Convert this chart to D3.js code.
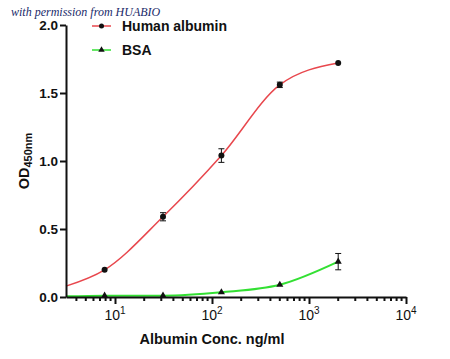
<!DOCTYPE html>
<html>
<head>
<meta charset="utf-8">
<script src="https://cdn.jsdelivr.net/npm/d3@7"></script>
<style>
  body { margin: 0; background: #fff; }
  text { font-family: Arial, "Liberation Sans", sans-serif; }
</style>
</head>
<body>
<div id="chart"></div>
<script>
// data
const conc = [7.8125, 31.25, 125, 500, 2000];
const humanOD = [0.20, 0.59, 1.04, 1.56, 1.72];
const humanErr = [0.01, 0.03, 0.05, 0.02, 0.01];
const bsaOD = [0.01, 0.01, 0.035, 0.09, 0.26];
const bsaErr = [0.003, 0.003, 0.005, 0.005, 0.06];
// fitted curve start (left edge of axis)
const curveStartX = 3.125;
const humanStart = 0.08;
const bsaStart = 0.005;
const yTicks = [0, 0.5, 1.0, 1.5, 2.0];
const xDecades = [10, 100, 1000, 10000];

const red = '#e8474d';
const green = '#33e033';

const width = 450, height = 359;
const margin = {top: 25, right: 44, bottom: 62, left: 66};

const svg = d3.select("#chart")
    .append("svg")
    .attr("width", width)
    .attr("height", height);

const x = d3.scaleLog()
    .domain([curveStartX, 10000])
    .range([margin.left, width - margin.right]);
const y = d3.scaleLinear()
    .domain([0, 2])
    .range([height - margin.bottom, margin.top]);

// watermark
svg.append("text")
    .attr("x", 11)
    .attr("y", 16)
    .style("font-family", "'Liberation Serif', 'DejaVu Serif', serif")
    .style("font-style", "italic")
    .style("font-size", "12px")
    .attr("fill", "#1a2a6a")
    .text("with permission from HUABIO");

// curves
const line = d3.line()
    .x(d => x(d[0]))
    .y(d => y(d[1]))
    .curve(d3.curveMonotoneX);

const humanPts = [[curveStartX, humanStart]].concat(conc.map((c, i) => [c, humanOD[i]]));
const bsaPts = [[curveStartX, bsaStart]].concat(conc.map((c, i) => [c, bsaOD[i]]));

svg.append("path")
    .datum(bsaPts)
    .attr("d", line)
    .attr("fill", "none")
    .attr("stroke", green)
    .attr("stroke-width", 2);

svg.append("path")
    .datum(humanPts)
    .attr("d", line)
    .attr("fill", "none")
    .attr("stroke", red)
    .attr("stroke-width", 1.5);

// error bars
function errorBars(vals, errs) {
    const g = svg.append("g").attr("stroke", "#111").attr("stroke-width", 1);
    conc.forEach((c, i) => {
        if (errs[i] < 0.015) return;
        const cx = x(c);
        const y1 = y(vals[i] + errs[i]), y2 = y(vals[i] - errs[i]);
        g.append("line").attr("x1", cx).attr("x2", cx).attr("y1", y1).attr("y2", y2);
        g.append("line").attr("x1", cx - 3).attr("x2", cx + 3).attr("y1", y1).attr("y2", y1);
        g.append("line").attr("x1", cx - 3).attr("x2", cx + 3).attr("y1", y2).attr("y2", y2);
    });
}
errorBars(humanOD, humanErr);
errorBars(bsaOD, bsaErr);

// markers
svg.selectAll(".humanDot")
    .data(conc)
    .enter()
    .append("circle")
    .attr("class", "humanDot")
    .attr("cx", d => x(d))
    .attr("cy", (d, i) => y(humanOD[i]))
    .attr("r", 3)
    .attr("fill", "#111");

const tri = d3.symbol().type(d3.symbolTriangle).size(22);
svg.selectAll(".bsaTri")
    .data(conc)
    .enter()
    .append("path")
    .attr("class", "bsaTri")
    .attr("d", tri)
    .attr("transform", (d, i) => `translate(${x(d)}, ${y(bsaOD[i])})`)
    .attr("fill", "#111");

// y axis
const yAxis = svg.append("g")
    .attr("transform", `translate(${margin.left}, 0)`)
    .call(d3.axisLeft(y).tickValues(yTicks).tickFormat(d3.format(".1f")).tickSize(6).tickSizeOuter(0));
yAxis.select(".domain").attr("stroke", "#111").attr("stroke-width", 2);
yAxis.selectAll(".tick line").attr("stroke", "#111").attr("stroke-width", 2);
yAxis.selectAll("text")
    .style("font-size", "13.5px")
    .style("font-weight", "bold")
    .attr("fill", "#111")
    .attr("x", -8);

// x axis: minor ticks
const minorTicks = [];
[1, 10, 100, 1000].forEach(dec => {
    for (let k = 2; k <= 9; k++) {
        const v = dec * k;
        if (v >= curveStartX && v < 10000) minorTicks.push(v);
    }
});
const xAxisY = y(0);
svg.append("g")
    .selectAll("line")
    .data(minorTicks)
    .enter()
    .append("line")
    .attr("x1", d => x(d))
    .attr("x2", d => x(d))
    .attr("y1", xAxisY)
    .attr("y2", xAxisY + 4)
    .attr("stroke", "#111")
    .attr("stroke-width", 2);

const xAxis = svg.append("g")
    .attr("transform", `translate(0, ${xAxisY})`)
    .call(d3.axisBottom(x).tickValues(xDecades).tickFormat("").tickSize(7).tickSizeOuter(0));
xAxis.select(".domain").attr("stroke", "#111").attr("stroke-width", 2);
xAxis.selectAll(".tick line").attr("stroke", "#111").attr("stroke-width", 2);

xDecades.forEach(v => {
    const t = svg.append("text")
        .attr("x", x(v))
        .attr("y", xAxisY + 23)
        .attr("text-anchor", "middle")
        .style("font-size", "14px")
        .attr("fill", "#111");
    t.append("tspan").text("10");
    t.append("tspan").attr("dy", -6).style("font-size", "10px").text(Math.round(Math.log10(v)));
});

// axis titles
svg.append("text")
    .attr("x", 212)
    .attr("y", 344)
    .attr("text-anchor", "middle")
    .style("font-size", "14.5px")
    .style("font-weight", "bold")
    .attr("fill", "#111")
    .text("Albumin Conc. ng/ml");

const yt = svg.append("text")
    .attr("transform", "translate(29, 161) rotate(-90)")
    .attr("text-anchor", "middle")
    .style("font-size", "14.5px")
    .style("font-weight", "bold")
    .attr("fill", "#111");
yt.append("tspan").text("OD");
yt.append("tspan").attr("dy", 3).style("font-size", "11px").text("450nm");

// legend
const legend = [
    {name: "Human albumin", color: red, shape: "circle"},
    {name: "BSA", color: green, shape: "tri"}
];
legend.forEach((d, i) => {
    const ly = 26 + i * 24;
    svg.append("line")
        .attr("x1", 92).attr("x2", 111)
        .attr("y1", ly).attr("y2", ly)
        .attr("stroke", d.color).attr("stroke-width", 1.5);
    if (d.shape === "circle") {
        svg.append("circle").attr("cx", 101.5).attr("cy", ly).attr("r", 2.5).attr("fill", "#111");
    } else {
        svg.append("path").attr("d", d3.symbol().type(d3.symbolTriangle).size(18))
            .attr("transform", `translate(101.5, ${ly})`).attr("fill", "#111");
    }
    svg.append("text")
        .attr("x", 122)
        .attr("y", ly + 5)
        .style("font-size", "14px")
        .style("font-weight", "bold")
        .attr("fill", "#111")
        .text(d.name);
});
</script>
</body>
</html>
